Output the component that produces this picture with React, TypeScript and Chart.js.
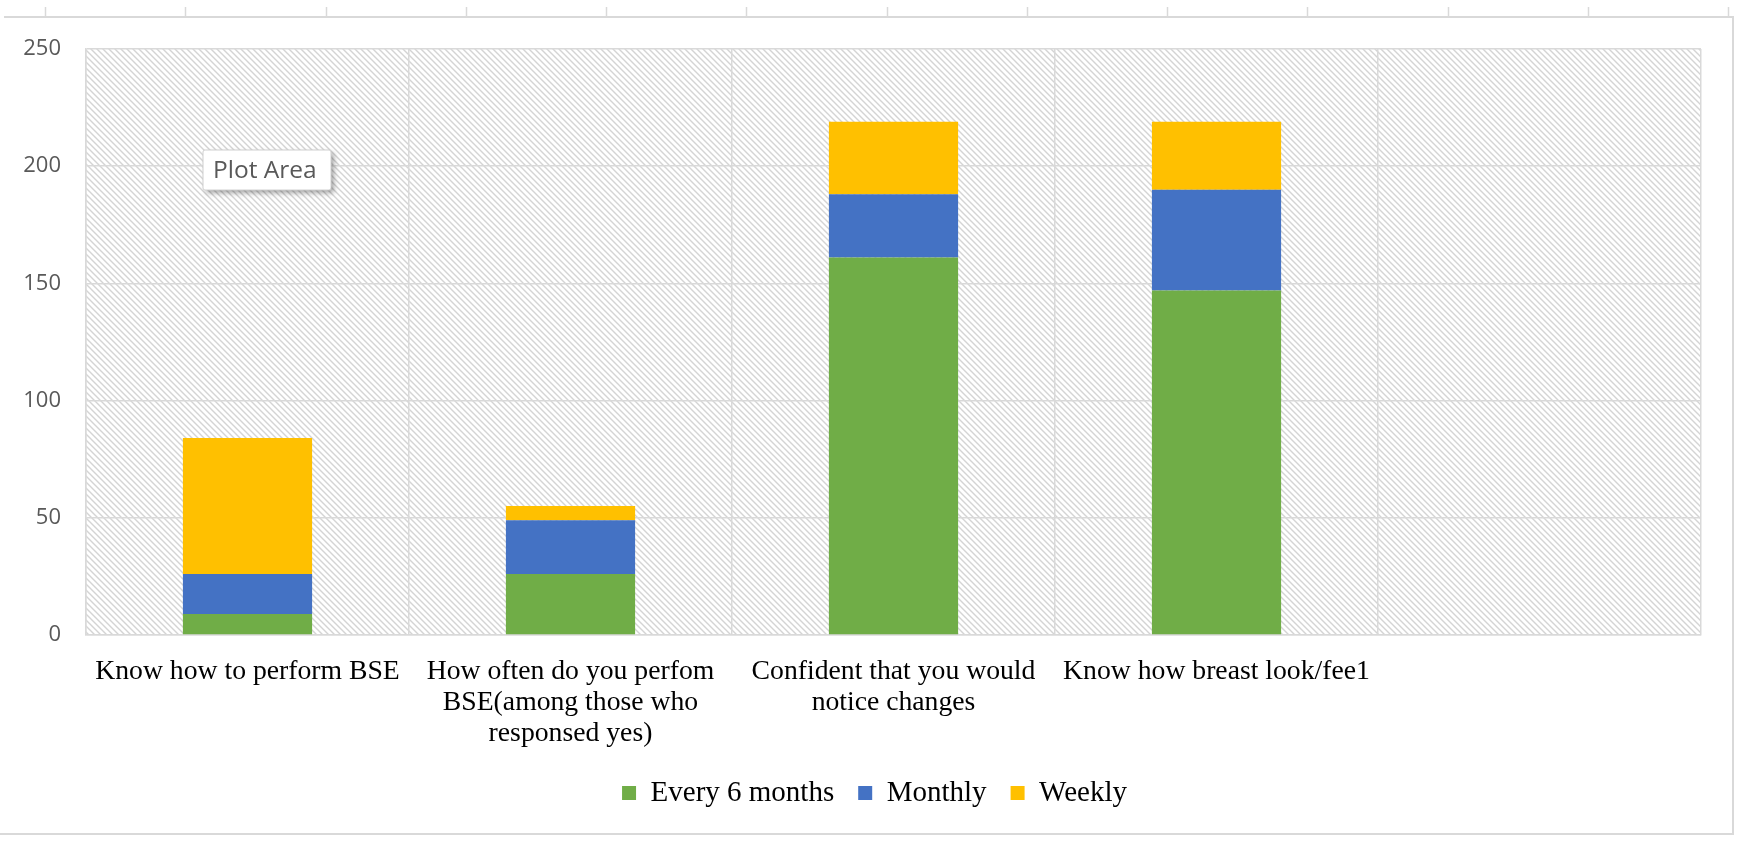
import React, { useEffect, useRef } from "react";
import { Chart, registerables } from "chart.js";

Chart.register(...registerables);

const categories: (string | string[])[] = [
  "Know how to perform BSE",
  ["How often do you perfom", "BSE(among those who", "responsed yes)"],
  ["Confident that you would", "notice changes"],
  "Know how breast look/fee1",
  "",
];
const every6Months = [9, 26, 161, 147, null];
const monthly = [17, 23, 27, 43, null];
const weekly = [58, 6, 31, 29, null];
const seriesNames = ["Every 6 months", "Monthly", "Weekly"];
const yTickValues = [0, 50, 100, 150, 200, 250];
const calloutText = "Plot Area";

const decorPlugin = {
  id: "decor",
  afterLayout(chart: any) {
    const lg = chart.legend;
    if (lg) {
      lg.left += 22;
      lg.right += 22;
    }
  },
  beforeDraw(chart: any) {
    const { ctx, chartArea: a, width, height } = chart;
    ctx.save();
    ctx.fillStyle = "#ffffff";
    ctx.fillRect(0, 0, width, height);

    // outer frame (top, right, bottom)
    ctx.strokeStyle = "#d9d9d9";
    ctx.lineWidth = 2;
    ctx.beginPath();
    ctx.moveTo(4, 17);
    ctx.lineTo(1733, 17);
    ctx.lineTo(1733, 834);
    ctx.lineTo(0, 834);
    ctx.stroke();

    // column ticks above frame
    ctx.lineWidth = 1.5;
    ctx.beginPath();
    for (let x = 45; x <= 1731; x += 140.25) {
      ctx.moveTo(Math.round(x) + 0.5, 7);
      ctx.lineTo(Math.round(x) + 0.5, 17);
    }
    ctx.stroke();

    // hatch pattern in plot area
    const tile = document.createElement("canvas");
    tile.width = 6;
    tile.height = 6;
    const t = tile.getContext("2d")!;
    t.fillStyle = "#ffffff";
    t.fillRect(0, 0, 6, 6);
    t.strokeStyle = "#d4d4d4";
    t.lineWidth = 1.4;
    t.beginPath();
    t.moveTo(-1, -1);
    t.lineTo(7, 7);
    t.moveTo(-1, 5);
    t.lineTo(1, 7);
    t.moveTo(5, -1);
    t.lineTo(7, 1);
    t.stroke();
    const pat = ctx.createPattern(tile, "repeat");
    if (pat) {
      ctx.fillStyle = pat;
      ctx.fillRect(a.left, a.top, a.right - a.left, a.bottom - a.top);
    }
    ctx.restore();
  },
  afterDraw(chart: any) {
    const { ctx } = chart;
    ctx.save();
    const x = 203, y = 150, w = 128, h = 40;
    ctx.shadowColor = "rgba(0,0,0,0.35)";
    ctx.shadowBlur = 5;
    ctx.shadowOffsetX = 3;
    ctx.shadowOffsetY = 3;
    ctx.fillStyle = "#ffffff";
    ctx.beginPath();
    ctx.roundRect(x, y, w, h, 2);
    ctx.fill();
    ctx.shadowColor = "transparent";
    ctx.strokeStyle = "#d0d0d0";
    ctx.lineWidth = 1;
    ctx.stroke();
    ctx.fillStyle = "#595959";
    ctx.font = "24.5px 'Open Sans'";
    ctx.textBaseline = "middle";
    ctx.textAlign = "left";
    ctx.fillText(calloutText, x + 10, y + h / 2 + 1);
    ctx.restore();
  },
};

export default function App() {
  const ref = useRef<HTMLCanvasElement>(null);

  useEffect(() => {
    document.body.style.margin = "0";
    const chart = new Chart(ref.current!, {
      type: "bar",
      data: {
        labels: categories as any,
        datasets: [
          { label: seriesNames[0], data: every6Months as any, backgroundColor: "#70AD47", borderWidth: 0 },
          { label: seriesNames[1], data: monthly as any, backgroundColor: "#4472C4", borderWidth: 0 },
          { label: seriesNames[2], data: weekly as any, backgroundColor: "#FFC000", borderWidth: 0 },
        ],
      },
      options: {
        responsive: true,
        maintainAspectRatio: false,
        animation: false,
        datasets: { bar: { categoryPercentage: 1, barPercentage: 0.4 } },
        layout: { padding: { left: 4, right: 38, top: 49, bottom: 23.5 } },
        plugins: {
          tooltip: { enabled: false },
          legend: {
            position: "bottom",
            labels: {
              boxWidth: 14,
              boxHeight: 14,
              padding: 24,
              color: "#000000",
              font: { family: "'Liberation Serif', 'Times New Roman', serif", size: 29 },
            },
          },
        },
        scales: {
          x: {
            stacked: true,
            grid: { color: "#d9d9d9", lineWidth: 1.5, drawTicks: false, offset: true },
            border: { color: "#d9d9d9", width: 1.5 },
            ticks: {
              padding: 21,
              color: "#000000",
              maxRotation: 0,
              autoSkip: false,
              font: { family: "'Liberation Serif', 'Times New Roman', serif", size: 27.7, lineHeight: 1.12 },
            },
            afterFit: (s: any) => {
              s.height = 119.5;
            },
          },
          y: {
            stacked: true,
            min: 0,
            max: 250,
            grid: { color: "#d9d9d9", lineWidth: 1.5, drawTicks: false },
            border: { color: "#d9d9d9", width: 1.5 },
            ticks: {
              stepSize: 50,
              padding: 25,
              color: "#595959",
              font: { family: "'Open Sans', sans-serif", size: 22 },
            },
            afterBuildTicks: (s: any) => {
              s.ticks = yTickValues.map((v) => ({ value: v }));
            },
            afterFit: (s: any) => {
              s.width = 82;
            },
          },
        },
      },
      plugins: [decorPlugin],
    });
    return () => chart.destroy();
  }, []);

  return (
    <div style={{ width: 1739, height: 841, position: "relative" }}>
      <canvas ref={ref} />
    </div>
  );
}
